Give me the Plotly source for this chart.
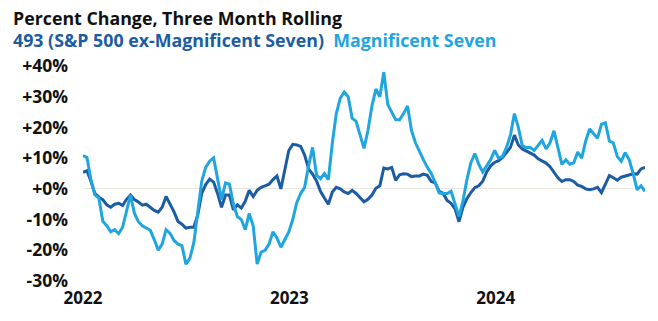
import pandas as pd
import plotly.graph_objects as go

# Weekly observations, three-month rolling percent change
start_date = "2022-01-01"
n_weeks = 143
dates = pd.date_range(start_date, periods=n_weeks, freq="7D")

mag7 = [
    10.8, 10.2, 3.0, -2.0, -3.0, -10.5, -12.0, -14.0, -13.3, -14.6,
    -12.5, -7.0, -2.0, -8.0, -10.7, -12.0, -12.8, -13.5, -16.5, -20.0,
    -18.0, -13.3, -14.5, -16.8, -18.0, -18.5, -24.5, -22.6, -17.5, -7.0,
    2.5, 7.0, 9.0, 10.1, 3.0, -3.5, 1.9, 1.5, -5.0, -9.0,
    -10.0, -13.3, -8.0, -12.0, -24.5, -20.6, -20.0, -18.0, -14.0, -16.0,
    -19.0, -16.5, -14.0, -10.0, -4.5, -1.5, 0.5, 7.5, 13.5, 4.5,
    3.3, 5.0, 3.0, 15.0, 24.5, 29.5, 31.5, 30.0, 23.0, 22.0,
    17.5, 13.2, 19.0, 27.0, 32.5, 30.0, 38.0, 27.5, 25.0, 22.5,
    22.5, 24.5, 27.0, 19.0, 15.0, 12.0, 9.5, 7.0, 5.0, 2.0,
    -1.3, -1.5, -1.5, -0.8, -5.0, -9.0, -4.0, 3.0, 8.5, 11.5,
    8.0, 5.5, 7.5, 9.5, 12.5, 10.0, 10.6, 13.5, 17.5, 24.5,
    20.0, 14.0, 13.5, 13.5, 12.5, 14.0, 15.8, 13.0, 15.0, 18.9,
    13.0, 8.0, 9.5, 8.0, 8.5, 12.0, 10.0, 15.5, 19.5, 18.0,
    16.5, 21.0, 21.5, 15.5, 15.0, 10.5, 9.0, 11.8, 9.5, 5.0,
    -0.3, 1.0, -0.8,
]

ex_mag7 = [
    5.4, 5.9, 2.5, -1.5, -2.7, -3.5, -5.2, -6.0, -5.0, -4.7,
    -5.4, -3.4, -2.0, -3.5, -4.3, -5.3, -5.0, -6.0, -7.0, -7.6,
    -6.0, -2.5, -4.8, -7.5, -10.6, -11.5, -12.8, -12.5, -12.5, -8.5,
    -1.5, 1.4, 3.2, 2.2, -1.5, -6.0, -2.0, -2.0, -6.8, -5.2,
    -6.2, -4.0, -0.5, -2.5, -0.5, 0.5, 1.0, 1.5, 3.0, 4.2,
    0.0, 6.5, 12.5, 14.5, 14.3, 13.8, 11.0, 6.5, 4.8, 2.6,
    -0.8, -3.0, -5.0, -1.0, 0.5, 0.0, -1.0, -1.5, -0.5, -1.5,
    -3.0, -4.2, -3.4, -2.0, 0.2, 1.0, 6.8, 6.5, 7.0, 2.8,
    4.6, 4.9, 4.8, 4.0, 4.2, 4.2, 4.8, 4.4, 2.4, 2.0,
    -0.8, -1.5, -3.8, -4.7, -6.5, -10.7, -6.0, -3.2, -1.2, 0.4,
    1.0, 2.5, 5.5, 7.5, 8.6, 9.2, 10.2, 11.7, 13.5, 17.5,
    14.3, 13.0, 12.3, 11.7, 11.0, 9.8, 9.0, 8.4, 7.2, 5.4,
    3.6, 2.4, 3.0, 3.0, 2.4, 1.2, 0.8, 0.0, -0.3, 0.0,
    0.5, -1.2, 1.5, 4.3, 3.6, 2.8, 3.8, 4.2, 4.5, 4.9,
    4.8, 6.5, 7.0,
]

y_tick_vals = [40, 30, 20, 10, 0, -10, -20, -30]
y_tick_text = ["+40%", "+30%", "+20%", "+10%", "+0%", "-10%", "-20%", "-30%"]
x_tick_vals = ["2022-01-01", "2023-01-01", "2024-01-01"]
x_tick_text = ["2022", "2023", "2024"]

title_text = "Percent Change, Three Month Rolling"
name_ex = "493 (S&P 500 ex-Magnificent Seven)"
name_mag = "Magnificent Seven"

DARK = "#1c5ca3"
LIGHT = "#1fa5df"
FONT = "Open Sans"

fig = go.Figure()
fig.add_trace(go.Scatter(x=dates, y=ex_mag7, mode="lines", name=name_ex,
                         line=dict(color=DARK, width=3)))
fig.add_trace(go.Scatter(x=dates, y=mag7, mode="lines", name=name_mag,
                         line=dict(color=LIGHT, width=3)))

fig.update_layout(
    width=658, height=321,
    margin=dict(l=83, r=13, t=66, b=30),
    paper_bgcolor="white", plot_bgcolor="white",
    showlegend=False,
    font=dict(family=FONT, color="#111111"),
    xaxis=dict(
        range=[dates[0], dates[-1]],
        tickvals=x_tick_vals, ticktext=x_tick_text,
        showgrid=False, zeroline=False, showline=False, ticks="",
        tickfont=dict(size=17, family=FONT, color="#111111", weight="bold"),
        ticklabelstandoff=5,
    ),
    yaxis=dict(
        range=[-30, 40],
        tickvals=y_tick_vals, ticktext=y_tick_text,
        showgrid=False, zeroline=True, zerolinecolor="#ebe6e0", zerolinewidth=1.2,
        showline=False, ticks="",
        tickfont=dict(size=17.5, family=FONT, color="#111111", weight="bold"),
        ticklabelstandoff=14,
    ),
    annotations=[
        dict(text=title_text, xref="paper", yref="paper",
             x=(11 - 83) / 562, y=(291 - 16) / 225,
             xanchor="left", yanchor="middle", showarrow=False,
             font=dict(size=17.8, family=FONT, color="#111111", weight="bold")),
        dict(text=f"<span style='color:{DARK}'>{name_ex}</span>  "
                  f"<span style='color:{LIGHT}'>{name_mag}</span>",
             xref="paper", yref="paper",
             x=(11 - 83) / 562, y=(291 - 39) / 225,
             xanchor="left", yanchor="middle", showarrow=False,
             font=dict(size=17.8, family=FONT, weight="bold")),
    ],
)

fig.write_html("out.html")
